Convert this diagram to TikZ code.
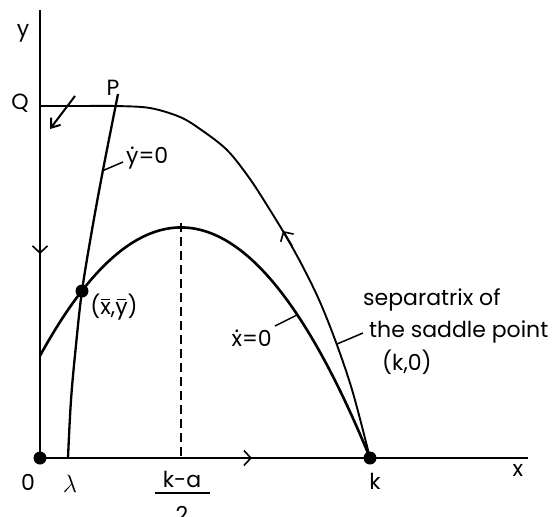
\documentclass[tikz,border=0pt]{standalone}
\usepackage{fontspec}
\setmainfont{Poppins}
\usetikzlibrary{arrows.meta}
\newcommand\dotover[1]{\ooalign{#1\cr\hidewidth\raisebox{0.62em}{.}\hidewidth\cr}}
\newcommand\barover[1]{\ooalign{#1\cr\hidewidth\raisebox{0.66em}{\rule{0.42em}{0.05em}}\hidewidth\cr}}
\begin{document}
\begin{tikzpicture}[x=1pt,y=-1pt,
  lbl/.style={font=\fontsize{22}{26}\selectfont, inner sep=0pt},
  barb/.style={-{Straight Barb[length=7pt,width=15pt,line width=1.6pt]}},
  dotm/.style={circle,fill,inner sep=0pt,minimum size=13pt},
  axis/.style={line width=1.7pt},
  curve/.style={line width=2.6pt},
  sep/.style={line width=1.9pt},
  leader/.style={line width=1.5pt}]
\useasboundingbox (0,0) rectangle (552,517);
% key points
\coordinate (O) at (40,458);
\coordinate (ytop) at (40,10);
\coordinate (xend) at (528,458);
\coordinate (Kp) at (370,458);
\coordinate (Ep) at (82,291);
\coordinate (peak) at (181,223);
\coordinate (peakfoot) at (181,458);
% axes
\draw[axis] (ytop) -- (O) -- (xend);
% xdot = 0 parabola
\draw[curve] plot[domain=40:370, samples=90] (\x, {458-0.00646*(\x+8)*(370-\x)});
% dashed line
\draw[line width=1.6pt, dash pattern=on 9pt off 5pt] (peak) -- (peakfoot);
% ydot = 0 curve
\draw[curve, line width=2.3pt] plot[smooth, tension=0.6] coordinates {(68,458) (71,400) (76,345) (82,291) (92,230) (103,170) (118,94)};
% separatrix
\draw[sep] plot[smooth, tension=0.55] coordinates {(40,106) (80,106) (115,106) (150,108) (180,117) (200,129) (227,150) (250,179) (270,210) (287,238) (303,267) (320,302) (337,345) (353,393) (370,458)};
% arrows
\coordinate (ya1) at (40,236);
\coordinate (ya2) at (40,254);
\draw[axis, barb] (ya1) -- (ya2);
\coordinate (xa1) at (234,458);
\coordinate (xa2) at (252,458);
\draw[axis, barb] (xa1) -- (xa2);
\coordinate (sa1) at (292,246);
\coordinate (sa2) at (283,231);
\draw[sep, barb] (sa1) -- (sa2);
\coordinate (qa1) at (75,96);
\coordinate (qa2) at (50,129);
\draw[line width=2pt, -{Straight Barb[length=8pt,width=12pt,line width=2pt]}] (qa1) -- (qa2);
% dots
\node[dotm] (origin) at (O) {};
\node[dotm] (K) at (Kp) {};
\node[dotm] (E) at (Ep) {};
% leaders
\coordinate (l1a) at (102,171);
\coordinate (l1b) at (123,162);
\draw[leader] (l1a) -- (l1b);
\coordinate (l2a) at (275,326);
\coordinate (l2b) at (297,315);
\draw[leader] (l2a) -- (l2b);
\coordinate (l3a) at (337,344);
\coordinate (l3b) at (363,333);
\draw[leader] (l3a) -- (l3b);
% labels
\node[lbl] (ylab) at (23,33) {y};
\node[lbl] (Qlab) at (20,103) {Q};
\node[lbl] (Plab) at (113,88) {P};
\node[lbl, anchor=west] (yd) at (126,155) {\dotover{y}=0};
\node[lbl, anchor=east] (xd) at (272,338) {\dotover{x}=0};
\node[lbl] (eq) at (114,306) {(\barover{x},\barover{y})};
\node[lbl, anchor=west] (s1) at (363,300) {separatrix of};
\node[lbl, anchor=west] (s2) at (369,332) {the saddle point};
\node[lbl, anchor=west] (s3) at (382,362) {(k,0)};
\node[lbl] (Olab) at (28,482) {0};
\node[font=\fontsize{26}{28}\selectfont, inner sep=0pt] (lam) at (70,484) {$\lambda$};
\node[lbl] (num) at (182,479) {k-a};
\coordinate (fb1) at (155,493);
\coordinate (fb2) at (210,493);
\draw[line width=1.5pt] (fb1) -- (fb2);
\node[lbl] (den) at (182,514) {2};
\node[lbl] (klab) at (375,481) {k};
\node[lbl] (xlab) at (518,470) {x};
\end{tikzpicture}
\end{document}
